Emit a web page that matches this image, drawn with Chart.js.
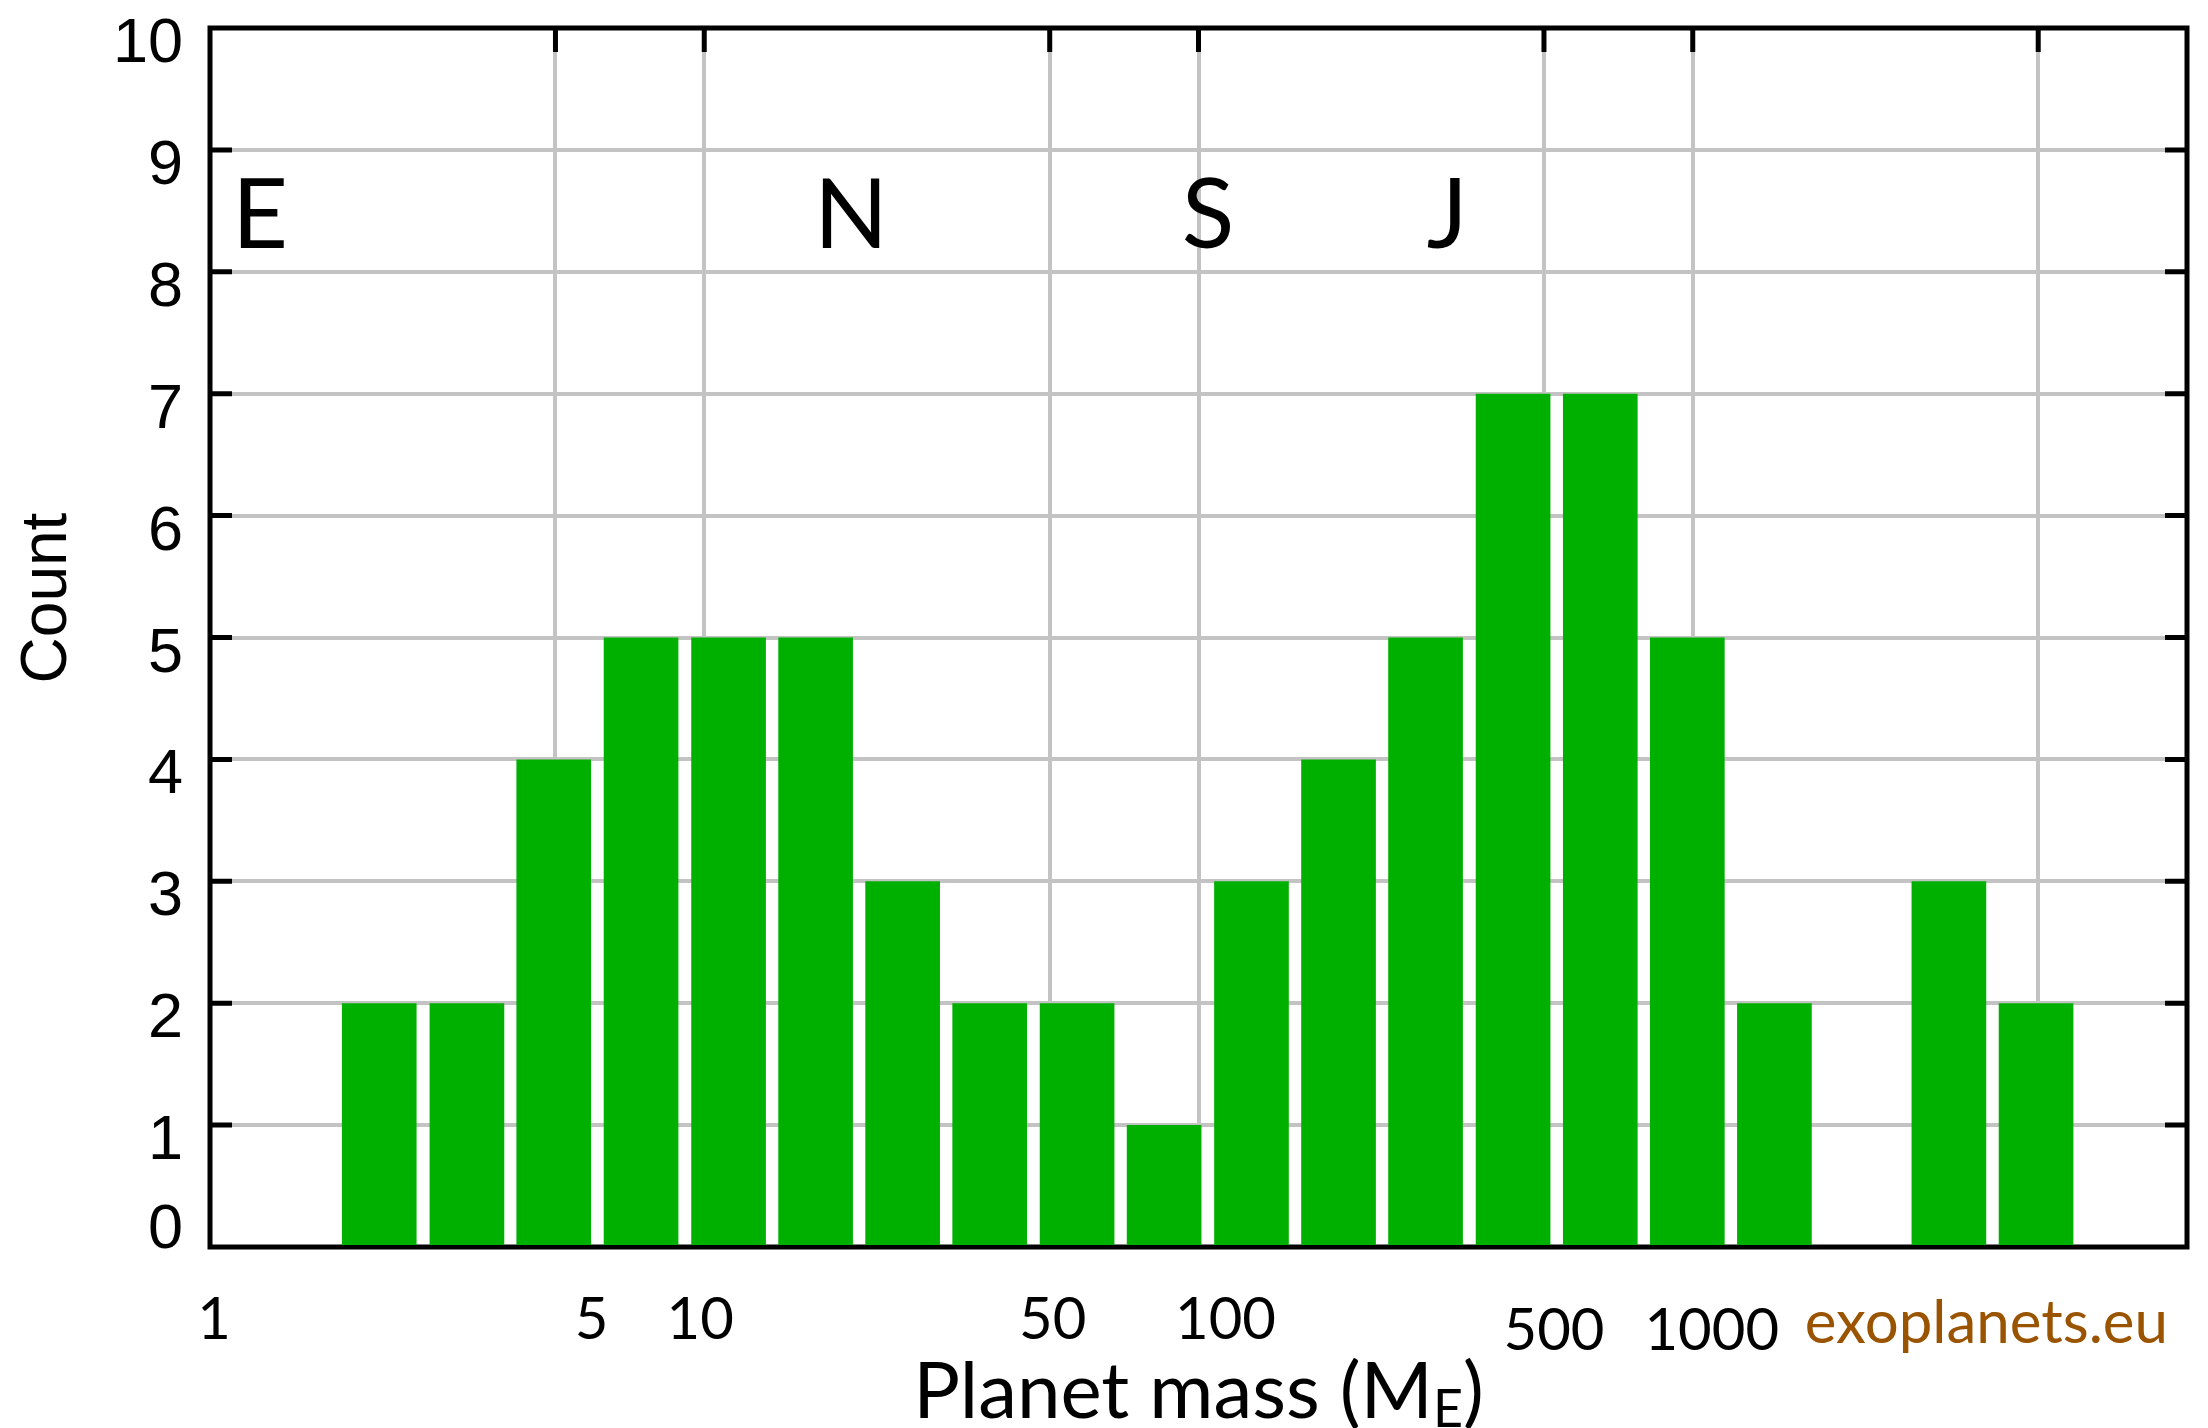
<!DOCTYPE html>
<html>
<head>
<meta charset="utf-8">
<script src="https://cdn.jsdelivr.net/npm/chart.js@4.4.1/dist/chart.umd.min.js"></script>
<style>
  html, body { margin: 0; padding: 0; background: #fff; }
</style>
</head>
<body>
<canvas id="massChart" width="2208" height="1428"></canvas>
<script>
// Planet mass histogram, log-spaced bins (Earth masses)
const binCenters = [2.2, 3.31, 4.96, 7.45, 11.2, 16.8, 25.2, 37.8, 56.8, 85.2, 128, 192, 288, 433, 650, 975, 1463, 2197, 3298, 4950];
const counts = [2, 2, 4, 5, 5, 5, 3, 2, 2, 1, 3, 4, 5, 7, 7, 5, 2, 0, 3, 2];

// mass axis grid lines and the ones that carry a label
const gridMasses = [1, 5, 10, 50, 100, 500, 1000, 5000, 10000];
const massLabels = [1, 5, 10, 50, 100, 500, 1000];
const countTicks = [0, 1, 2, 3, 4, 5, 6, 7, 8, 9, 10];

// Solar System reference planets
const refLetters = ['E', 'N', 'S', 'J'];
const refMasses = [1, 17.15, 95.16, 317.8];

const GREEN = 'rgb(0, 176, 0)';
const GRID = '#c3c3c3';
const SANS = '"Liberation Sans", Arial, sans-serif';
const HUMAN = 'Lato, "Open Sans", sans-serif';

// hand placement of the mass labels: [dx, dy]
const labelShift = { 1: [4, 0], 5: [36, 0], 10: [-4, 0], 50: [3, 0], 100: [27, 0], 500: [10, 11], 1000: [19, 11] };
// nudges for the planet letters
const letterShift = [22, -6, -6, -20];

const framePlugin = {
  id: 'frame',
  beforeDatasetsDraw(chart) {
    const { ctx, chartArea: a, scales: { x, y } } = chart;
    ctx.save();
    ctx.strokeStyle = '#000';
    ctx.lineWidth = 5;
    ctx.lineCap = 'butt';
    ctx.beginPath();
    countTicks.slice(1, -1).forEach(v => {
      const py = y.getPixelForValue(v);
      ctx.moveTo(a.left, py); ctx.lineTo(a.left + 22, py);
      ctx.moveTo(a.right, py); ctx.lineTo(a.right - 22, py);
    });
    gridMasses.slice(1, -1).forEach(m => {
      const px = x.getPixelForValue(m);
      ctx.moveTo(px, a.top); ctx.lineTo(px, a.top + 24);
    });
    ctx.stroke();
    ctx.strokeRect(a.left, a.top, a.right - a.left, a.bottom - a.top);
    ctx.restore();
  },
  afterDraw(chart) {
    const { ctx, chartArea: a, scales: { x, y } } = chart;
    ctx.save();
    ctx.fillStyle = '#000';

    // count labels
    ctx.font = '63px ' + SANS;
    ctx.textAlign = 'right';
    ctx.textBaseline = 'alphabetic';
    countTicks.forEach(v => {
      const py = y.getPixelForValue(v) + (v === 0 ? 1 : 34);
      ctx.fillText(String(v), a.left - 27, py);
    });

    // mass labels
    ctx.font = '58px ' + HUMAN;
    ctx.textAlign = 'center';
    massLabels.forEach(m => {
      const [dx, dy] = labelShift[m] || [0, 0];
      ctx.fillText(String(m), x.getPixelForValue(m) + dx, a.bottom + 92 + dy);
    });

    // credit
    ctx.fillStyle = '#9a5400';
    ctx.font = '60px ' + HUMAN;
    ctx.textAlign = 'right';
    ctx.fillText('exoplanets.eu', a.right - 19, a.bottom + 96);

    // axis titles
    ctx.fillStyle = '#000';
    const main = 'Planet mass (M';
    ctx.font = '78px ' + HUMAN;
    const wMain = ctx.measureText(main).width;
    const wEnd = ctx.measureText(')').width;
    ctx.font = '52px ' + HUMAN;
    const wSub = ctx.measureText('E').width;
    let tx = (a.left + a.right) / 2 - (wMain + wSub + wEnd) / 2;
    const base = a.bottom + 171;
    ctx.textAlign = 'left';
    ctx.font = '78px ' + HUMAN;
    ctx.fillText(main, tx, base);
    tx += wMain;
    ctx.font = '52px ' + HUMAN;
    ctx.fillText('E', tx, base + 9);
    tx += wSub;
    ctx.font = '78px ' + HUMAN;
    ctx.fillText(')', tx, base);

    ctx.save();
    ctx.translate(48, 598);
    ctx.rotate(-Math.PI / 2);
    ctx.font = '64px ' + SANS;
    ctx.textAlign = 'center';
    ctx.textBaseline = 'middle';
    ctx.fillText('Count', 0, 0);
    ctx.restore();

    // planet markers
    ctx.font = '97px ' + HUMAN;
    ctx.textAlign = 'left';
    refLetters.forEach((t, i) => {
      ctx.fillText(t, x.getPixelForValue(refMasses[i]) + letterShift[i], a.top + 220);
    });
    ctx.restore();
  }
};

new Chart(document.getElementById('massChart'), {
  type: 'bar',
  data: {
    datasets: [{
      label: 'Count',
      data: binCenters.map((m, i) => ({ x: m, y: counts[i] })),
      backgroundColor: GREEN,
      borderWidth: 0,
      barPercentage: 0.86,
      categoryPercentage: 1
    }]
  },
  options: {
    responsive: false,
    animation: false,
    devicePixelRatio: 1,
    layout: { padding: { left: 210, right: 21, top: 28, bottom: 181 } },
    plugins: { legend: { display: false }, tooltip: { enabled: false } },
    scales: {
      x: {
        type: 'logarithmic',
        min: 1,
        max: 10000,
        offset: false,
        afterBuildTicks: s => { s.ticks = gridMasses.map(v => ({ value: v })); },
        afterFit: s => { s.height = 0; },
        ticks: { display: false },
        grid: { color: GRID, lineWidth: 4, drawTicks: false, offset: false },
        border: { display: false }
      },
      y: {
        min: 0,
        max: 10,
        ticks: { display: false, stepSize: 1 },
        afterFit: s => { s.width = 0; },
        grid: { color: GRID, lineWidth: 4, drawTicks: false },
        border: { display: false }
      }
    }
  },
  plugins: [framePlugin]
});
</script>
</body>
</html>
